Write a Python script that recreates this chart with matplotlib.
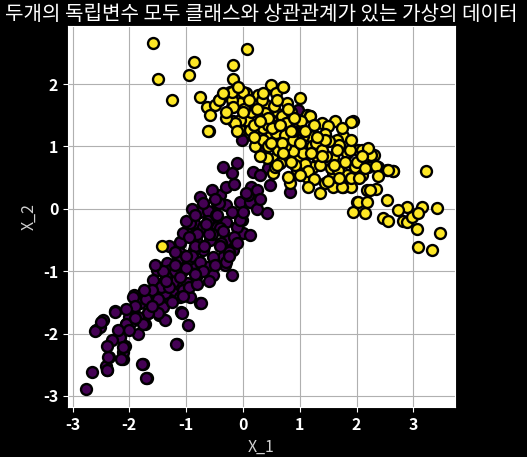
import numpy as np
import matplotlib.pyplot as plt

# class 1 (yellow) points
x1_yellow = [
    -1.58, -1.50, -1.25, -0.95, -0.87, 0.08, -0.18, -0.18, -0.76, -0.64,
    -0.43, -0.49, -0.58, -0.59, -0.23, -0.14, 0.06, -0.20, 0.33, 0.27,
    0.49, 0.70, 0.59, 0.78, 1.00, 0.39, 0.59, 0.21, -0.02, -0.17,
    -0.05, 0.12, 0.48, 0.77, 0.95, 1.12, 0.24, 0.71, 0.62, 0.40,
    1.18, 1.39, 1.62, 1.50, 1.93, 1.77, 1.65, 1.59, 1.83, 2.03,
    2.30, 2.38, 2.65, 2.53, 2.21, 1.97, 1.83, 1.59, 1.44, 1.36,
    1.59, 1.77, 1.91, 2.18, 2.00, 2.15, 1.94, 1.18, 1.21, 1.36,
    1.33, 1.47, 1.24, 1.12, 0.95, 0.83, 0.80, 0.59, 0.71, 0.97,
    1.06, 0.89, 0.74, 0.62, 0.42, 0.30, 0.21, 0.53, 0.56, 0.65,
    0.42, 0.30, 0.59, 0.74, 0.89, 1.06, 0.95, 0.80, 0.68, 0.50,
    0.39, 0.24, 0.09, -0.05, -0.14, 0.12, 0.36, 0.56, 0.06, 0.18,
    0.33, -0.05, -0.20, -0.20, 0.01, -0.17, -0.43, -0.61, 3.23, 2.64,
    2.56, 2.35, 2.38, 2.26, 2.09, 2.20, 1.91, 1.18, 1.74, 2.35,
    2.53, 2.02, 2.18, 2.88, 3.15, 3.41, 2.73, 2.47, 2.56, 2.82,
    2.88, 2.97, 3.08, 3.06, 3.47, 3.08, 3.32, 2.24, -1.43, 0.15,
    0.45, 0.88, 1.28, 1.45, 1.70, 1.10, 1.30, 1.55, 1.02, 0.68,
    0.85, 1.40, 1.15, 0.52, 0.35, 0.02, 0.92, 1.25, 1.68, 1.88,
    2.10, 1.52, 0.75, -0.30, -0.08, 0.20, 0.45, 1.35, 0.60, 1.05,
    0.10, 0.25, 0.45, 0.65, 0.85, 1.00, 1.20, 1.40, 1.60, 1.80,
    2.00, 2.15, 1.45, 1.30, 1.10, 0.90, 0.55, 0.35, 0.00, -0.30,
    -0.10, 0.20, 0.50, 0.70, 0.85, 1.00, 1.15, 1.50, 1.70, 1.90,
    2.05, 1.65, 1.90, 1.75, 2.10, 0.60, 0.80, 1.25, 0.30, -0.35,
]
y1_yellow = [
    2.66, 2.08, 1.75, 2.15, 2.36, 2.56, 2.30, 2.08, 1.80, 1.64,
    1.74, 1.66, 1.50, 1.24, 1.88, 1.90, 1.85, 1.64, 1.74, 1.82,
    1.98, 1.95, 1.85, 1.70, 1.77, 1.56, 1.50, 1.48, 1.42, 1.40,
    1.26, 1.29, 1.18, 1.16, 1.32, 1.50, 1.16, 1.96, 1.52, 1.66,
    1.48, 1.37, 1.40, 1.32, 1.40, 1.16, 1.10, 0.83, 0.89, 0.94,
    0.86, 0.67, 0.60, 0.62, 0.67, 0.67, 0.54, 0.54, 0.41, 0.25,
    0.35, 0.35, 0.35, 0.30, 0.11, -0.07, -0.05, 1.16, 1.00, 0.97,
    0.78, 0.84, 0.67, 0.51, 0.62, 0.41, 0.51, 0.83, 0.83, 0.78,
    0.89, 0.92, 1.00, 0.94, 0.81, 0.84, 1.00, 0.57, 0.67, 0.73,
    1.16, 1.21, 1.21, 1.18, 1.10, 1.16, 1.32, 1.42, 1.48, 1.42,
    1.53, 1.48, 1.40, 1.42, 1.37, 1.26, 1.29, 1.32, 1.58, 1.66,
    1.74, 1.69, 1.74, 1.88, 1.88, 1.64, 1.74, 1.24, 0.60, 0.60,
    0.62, 0.69, 0.53, 0.86, 0.94, 0.97, 1.39, 1.49, 0.35, 0.32,
    0.14, 0.11, 0.11, 0.03, 0.03, 0.01, -0.02, -0.15, -0.20, -0.20,
    -0.21, -0.13, -0.07, -0.33, -0.38, -0.61, -0.66, 0.30, -0.59, 1.55,
    1.35, 1.25, 1.05, 1.20, 1.02, 0.72, 0.85, 0.65, 1.40, 1.05,
    1.55, 0.95, 0.60, 1.30, 1.10, 1.60, 0.70, 0.48, 0.62, 0.95,
    0.55, 1.08, 1.38, 1.45, 1.95, 1.35, 1.00, 0.70, 0.70, 1.25,
    1.75, 1.60, 1.45, 1.35, 1.25, 1.05, 0.90, 0.85, 0.70, 0.75,
    0.75, 0.65, 1.10, 1.15, 1.25, 1.45, 1.65, 1.85, 1.55, 1.55,
    1.25, 1.15, 1.05, 0.90, 0.75, 0.55, 0.35, 0.45, 0.50, 0.50,
    0.50, 0.95, 1.10, 1.30, 0.85, 1.75, 1.60, 1.35, 1.40, 1.85,
]

# class 0 (purple) points
x0_purple = [
    -2.76, -2.66, -2.39, -2.41, -2.35, -2.11, -2.11, -2.08, -2.17, -2.58,
    -2.52, -2.46, -2.25, -2.14, -2.05, -1.97, -1.91, -1.85, -1.76, -1.69,
    -1.85, -1.73, -1.58, -1.47, -1.38, -1.16, -1.09, -1.67, -1.97, -1.58,
    -1.44, -1.32, -1.20, -1.55, -1.11, -0.96, -0.76, -0.35, -0.11, -0.20,
    0.18, 0.15, 0.48, 0.83, -0.76, -0.40, -0.29, -0.46, -0.05, 0.12,
    -0.64, -0.76, 0.42, -0.87, -0.70, -0.46, -0.29, -0.11, 0.01, 0.12,
    -1.11, -0.99, -0.82, -0.58, -0.29, -0.17, -0.35, -0.52, -0.70, -0.87,
    -1.11, -1.34, -1.52, -1.29, -1.05, -0.87, -0.64, -0.52, -0.32, -0.20,
    -0.82, -0.99, -1.17, -1.40, -1.58, -1.46, -1.23, -1.05, -0.93, -0.73,
    -1.08, -1.29, -1.40, -1.49, -1.67, -1.81, -1.93, -1.84, -1.76, -2.00,
    -2.05, -2.25, -1.17, -1.78, -1.70, -2.17, -2.11, -2.14, -2.37, -2.40,
    -2.61, -2.49, -1.29, -1.23, -1.37, -1.11, 0.97, -0.02, 0.39, 0.45,
    0.09, -0.43, -0.61, -0.02, -0.93, -1.05, -0.40, -0.11, -0.05, 0.25,
    -0.55, -0.85, -0.95, -1.20, -0.68, -0.38, -0.15, 0.30, -0.62, -0.48,
    -0.25, -0.80, -1.00, -1.35, -1.60, -0.90, -0.60, -0.30, -1.45, -1.15,
    -1.30, -1.00, -0.90, -0.70, -0.55, -0.45, -0.20, -0.30, -0.15, 0.05,
    -0.60, -0.75, -1.00, -1.20, -1.40, -1.60, -1.70, -1.50, -1.30, -1.10,
    -0.95, -0.80, -0.70, -0.50, -0.40, -0.25, -0.10, -1.90, -2.00, -2.20,
    -2.30, -2.40, -1.90, -1.60, -1.25, -1.05, -0.85, -1.20, -0.95, -0.65,
    -0.35, 0.00, 0.25, 0.30, -0.50, -0.85, -1.35, -1.55, -1.75, -2.05,
]
y0_purple = [
    -2.89, -2.61, -2.59, -2.52, -2.38, -2.40, -2.29, -2.20, -2.05, -1.95,
    -1.89, -1.79, -1.64, -1.94, -1.85, -1.65, -1.38, -1.51, -2.48, -2.72,
    -2.00, -1.84, -1.62, -1.70, -1.78, -2.16, -1.65, -1.67, -1.81, -1.35,
    -1.46, -1.35, -1.25, -1.19, -0.55, -1.86, -1.51, 0.67, 0.73, 0.57,
    0.59, 0.35, 0.38, 0.27, 0.19, 0.22, 0.06, 0.09, 0.11, 0.11,
    -0.05, -0.05, -0.06, -0.23, -0.29, -0.29, -0.21, -0.29, -0.39, -0.42,
    -0.53, -0.39, -0.50, -0.50, -0.50, -0.66, -0.77, -0.77, -0.66, -0.66,
    -0.71, -0.87, -0.98, -1.06, -0.98, -0.87, -0.93, -1.06, -0.90, -1.06,
    -1.09, -1.19, -1.19, -1.19, -1.14, -1.30, -1.35, -1.30, -1.41, -1.51,
    -1.67, -1.46, -1.57, -1.67, -1.67, -1.51, -1.41, -1.73, -1.84, -1.73,
    -1.84, -1.65, -2.16, -2.48, -2.72, -2.05, -2.21, -2.40, -2.37, -2.58,
    -1.96, -1.81, -0.98, -1.17, -1.35, -1.41, 1.59, 1.10, 0.97, 0.65,
    0.22, 0.09, -0.03, -0.18, -0.23, -0.39, -0.31, -0.29, -0.18, 0.30,
    -0.40, -0.60, -0.80, -1.00, -0.60, -0.55, -0.45, 0.55, -0.20, -0.10,
    -0.70, -0.40, -0.95, -1.10, -1.35, -0.75, -1.15, -0.85, -1.25, -0.80,
    -0.60, -0.20, 0.00, 0.10, 0.30, -0.10, -0.05, 0.35, 0.40, 0.25,
    -0.40, -0.85, -0.75, -0.90, -1.00, -1.30, -1.45, -1.45, -1.25, -1.10,
    -1.25, -1.20, -1.00, -0.90, -0.60, -0.75, -0.55, -1.55, -1.95, -1.95,
    -2.10, -2.20, -1.75, -1.55, -1.50, -1.40, -1.05, -0.70, -0.45, -0.25,
    -0.35, -0.05, 0.00, 0.15, 0.15, -0.10, -1.15, -0.90, -1.30, -1.60,
]

plt.rcParams['font.family'] = ['Noto Sans CJK KR', 'DejaVu Sans']
plt.rcParams['axes.unicode_minus'] = False

fig = plt.figure(figsize=(5.27, 4.57), dpi=100, facecolor='black')
ax = fig.add_axes([0.129, 0.109, 0.734, 0.834])
ax.set_facecolor('white')

ax.scatter(x0_purple, y0_purple, s=62, c='#440154', edgecolors='black', linewidths=1.7, zorder=3)
ax.scatter(x1_yellow, y1_yellow, s=62, c='#fde725', edgecolors='black', linewidths=1.7, zorder=3)

ax.set_xlim(-3.08, 3.73)
ax.set_ylim(-3.18, 2.93)
ax.set_xticks([-3, -2, -1, 0, 1, 2, 3])
ax.set_yticks([-3, -2, -1, 0, 1, 2])
ax.grid(True, color='#b0b0b0', linewidth=0.8, zorder=0)
ax.set_axisbelow(True)

for sp in ax.spines.values():
    sp.set_color('white')

ax.tick_params(colors='white', labelsize=11.5)
for lbl in ax.get_xticklabels() + ax.get_yticklabels():
    lbl.set_fontweight('bold')

ax.set_xlabel('X_1', color='#d0d0d0', fontsize=11.5)
ax.set_ylabel('X_2', color='#d0d0d0', fontsize=11.5)
ax.set_title('두개의 독립변수 모두 클래스와 상관관계가 있는 가상의 데이터', color='white', fontsize=14.5, pad=4)

plt.savefig('out.png', dpi=100, facecolor='black')
